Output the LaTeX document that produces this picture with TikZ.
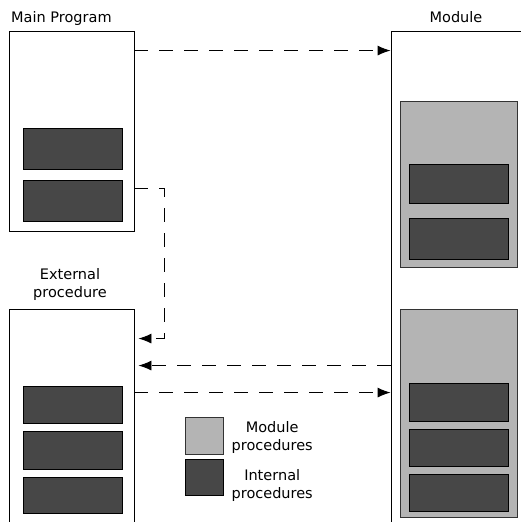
\documentclass[tikz,border=0pt]{standalone}
\usepackage{fontspec}
\setmainfont{DejaVu Sans}
\usetikzlibrary{arrows.meta}
\definecolor{procdark}{HTML}{474747}
\definecolor{procgray}{HTML}{B4B4B4}
\tikzset{
  unit/.style={rectangle, draw=black, fill=white, line width=0.9pt, inner sep=0pt},
  modproc/.style={rectangle, draw=black!80, fill=procgray, line width=0.9pt, inner sep=0pt, minimum width=117pt},
  intproc/.style={rectangle, draw=black, fill=procdark, line width=0.9pt, inner sep=0pt, minimum width=99pt},
  title/.style={inner sep=0pt, font=\fontsize{14.5}{18}\selectfont, align=center},
  call/.style={draw=black, line width=0.9pt, dash pattern=on 14pt off 11pt, -{Latex[length=13pt,width=10pt]}}
}
\begin{document}
\begin{tikzpicture}[x=1pt,y=-1pt]
\path[use as bounding box, clip] (0,0) rectangle (521,522);
% main program
\node [unit, minimum width=125pt, minimum height=200pt] (main) at (71.5,131) {};
\node [intproc, minimum height=41pt] (mainp1) at (72.5,148.5) {};
\node [intproc, minimum height=41pt] (mainp2) at (72.5,200.5) {};
\node [title, anchor=base west] (maintitle) at (11,22) {Main Program};
% module
\node [unit, minimum width=131pt, minimum height=514pt] (module) at (456.5,288) {};
\node [modproc, minimum height=166pt] (modgrp1) at (458.5,184) {};
\node [intproc, minimum height=39pt] (modp1) at (458.5,183.5) {};
\node [intproc, minimum height=41pt] (modp2) at (458.5,238.5) {};
\node [modproc, minimum height=208pt] (modgrp2) at (458.5,413) {};
\node [intproc, minimum height=38pt] (modp3) at (458.5,402) {};
\node [intproc, minimum height=37pt] (modp4) at (458.5,447.5) {};
\node [intproc, minimum height=37pt] (modp5) at (458.5,492.5) {};
\node [title, anchor=base] (modtitle) at (456,22) {Module};
% external procedure
\node [unit, minimum width=125pt, minimum height=236pt] (ext) at (71.5,427) {};
\node [intproc, minimum height=37pt] (extp1) at (72.5,404.5) {};
\node [intproc, minimum height=38pt] (extp2) at (72.5,450) {};
\node [intproc, minimum height=36pt] (extp3) at (72.5,495) {};
\node [title, anchor=south] (exttitle) at (70,301) {External\\procedure};
% key
\node [modproc, minimum width=38pt, minimum height=37pt] (keymod) at (204,435.5) {};
\node [intproc, minimum width=38pt, minimum height=36pt] (keyint) at (204,477) {};
\node [title, right=8pt] (keymodtext) at ([yshift=-2pt]keymod.east) {Module\\procedures};
\node [title, right=8pt] (keyinttext) at ([yshift=-8pt]keyint.east) {Internal\\procedures};
% calls
\draw [call] ([yshift=-20pt]main.north east) -- ([yshift=-20pt]module.north west);
\draw [call] ([yshift=-57pt]main.east) -- ++(30,0) |- ([xshift=4pt,yshift=-30pt]ext.north east);
\draw [call] ([yshift=-57pt]module.west |- ext.north east) -- ([xshift=4pt,yshift=-57pt]ext.north east);
\draw [call] ([yshift=-84pt]ext.north east) -- ([yshift=-84pt]module.west |- ext.north east);
\end{tikzpicture}
\end{document}
